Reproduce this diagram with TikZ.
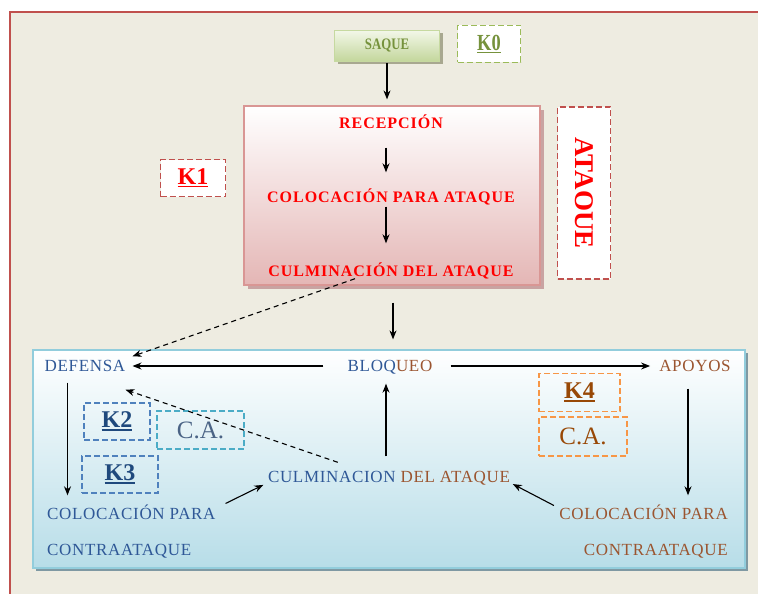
\documentclass[tikz,border=0pt]{standalone}
\usepackage{fontspec}
\setmainfont{Liberation Serif}
\newfontfamily\fA[LetterSpace=6]{Liberation Serif}
\newfontfamily\fB[LetterSpace=4]{Liberation Serif}
\usetikzlibrary{arrows.meta,shadows}
\definecolor{bgc}{HTML}{EEECE1}
\definecolor{framec}{HTML}{C0504D}
\definecolor{redtxt}{HTML}{FF0000}
\definecolor{redbord}{HTML}{D99694}
\definecolor{redbot}{HTML}{E4B6B5}
\definecolor{redsh}{HTML}{C9A3A2}
\definecolor{grtop}{HTML}{F2F7E8}
\definecolor{grbot}{HTML}{C3D69B}
\definecolor{grbord}{HTML}{C6D9A0}
\definecolor{grsh}{HTML}{A8A890}
\definecolor{grtxt}{HTML}{76923C}
\definecolor{grdash}{HTML}{9BBB59}
\definecolor{blbot}{HTML}{B7DDE8}
\definecolor{blbord}{HTML}{92CDDC}
\definecolor{blsh}{HTML}{7F99A3}
\definecolor{bltxt}{HTML}{2F5897}
\definecolor{brtxt}{HTML}{9B5530}
\definecolor{kbl}{HTML}{1F497D}
\definecolor{blue1}{HTML}{4F81BD}
\definecolor{cyan1}{HTML}{4BACC6}
\definecolor{cagray}{HTML}{4A6385}
\definecolor{orng}{HTML}{F79646}
\definecolor{kbr}{HTML}{984806}
\newcommand\kul[1]{\setbox0=\hbox{#1}\leavevmode\rlap{\raisebox{-3pt}{\rule{\wd0}{1.6pt}}}\box0}
\begin{document}
\begin{tikzpicture}[x=1pt,y=-1pt,
  >={Stealth[length=9pt,width=7pt]},
  arr/.style={->,line width=1.1pt,black},
  darr/.style={->,line width=1.1pt,black,dash pattern=on 5pt off 4pt},
  tA/.style={inner sep=0pt,text height=11pt,text depth=0pt,text=redtxt,
    font=\fA\bfseries\fontsize{16}{18}\selectfont},
  tB/.style={inner sep=0pt,text height=11pt,text depth=0pt,
    font=\fB\fontsize{17}{19}\selectfont},
  kbox/.style={draw,line width=1.6pt,dash pattern=on 6pt off 3pt,inner sep=0pt},
  klab/.style={font=\bfseries\fontsize{24}{26}\selectfont},
  calab/.style={font=\fontsize{25}{27}\selectfont}]
\useasboundingbox (0,0) rectangle (758,594);
\fill[white] (0,0) rectangle (758,594);
\fill[bgc] (10,12) rectangle (758,594);
\draw[framec,line width=1.5pt] (10,594) -- (10,12) -- (758,12);

% top part
\node[draw=grbord,line width=1pt,top color=grtop,bottom color=grbot,
  minimum width=105pt,minimum height=31pt,inner sep=0pt,
  general shadow={fill=grsh,shadow xshift=3pt,shadow yshift=-3pt},
  text=grtxt,font=\bfseries\fontsize{16}{18}\selectfont] (saque) at (387,46) {\scalebox{0.8}[1]{SAQUE}};
\node[kbox,draw=grdash,fill=white,minimum width=63pt,minimum height=37pt,
  text=grtxt,font=\bfseries\fontsize{23}{25}\selectfont] (k0) at (489,44) {\scalebox{0.8}[1]{\kul{K0}}};

\node[draw=redbord,line width=1.2pt,top color=white,bottom color=redbot,
  minimum width=296pt,minimum height=179pt,inner sep=0pt,
  general shadow={fill=redsh,shadow xshift=4pt,shadow yshift=-4pt}] (rbox) at (392,195.5) {};
\node[tA] (rec) at (391,123) {RECEPCIÓN};
\node[tA] (col) at (391,197) {COLOCACIÓN PARA ATAQUE};
\node[tA] (cul) at (391,271) {CULMINACIÓN DEL ATAQUE};

\node[kbox,draw=framec,fill=white,minimum width=65pt,minimum height=37pt,
  text=redtxt,klab] (k1) at (193,178) {\kul{K1}};
\node[kbox,draw=framec,fill=white,minimum width=53pt,minimum height=172pt] (atb) at (584,193) {};
\node[rotate=-90,inner sep=0pt,text=redtxt,font=\bfseries\fontsize{27}{29}\selectfont] (atq) at (atb) {ATAOUE};

% bottom part
\node[draw=blbord,line width=1.2pt,top color=white,bottom color=blbot,
  minimum width=712pt,minimum height=218pt,inner sep=0pt,
  general shadow={fill=blsh,shadow xshift=3pt,shadow yshift=-3pt}] (bbox) at (389,459) {};

\node[tB,text=bltxt] (def) at (85,366) {DEFENSA};
\node[tB] (bloq) at (390,366) {\textcolor{bltxt}{BLOQ}\textcolor{brtxt}{UEO}};
\node[tB,text=brtxt] (apo) at (695,366) {APOYOS};
\node[tB] (culm) at (389,477) {\textcolor{bltxt}{CULMINACION }\textcolor{brtxt}{DEL ATAQUE}};
\node[tB,text=bltxt,anchor=west] (colL1) at (47,514) {COLOCACIÓN PARA};
\node[tB,text=bltxt,anchor=west] (colL2) at (47,550) {CONTRAATAQUE};
\node[tB,text=brtxt,anchor=east] (colR1) at (728,514) {COLOCACIÓN PARA};
\node[tB,text=brtxt,anchor=east] (colR2) at (728,550) {CONTRAATAQUE};

\node[kbox,draw=blue1,minimum width=66pt,minimum height=37pt,text=kbl,klab] (k2) at (117,421.5) {\kul{K2}};
\node[kbox,draw=cyan1,minimum width=87pt,minimum height=38pt,text=cagray,calab] (ca1) at (200.5,430) {C.A.};
\node[kbox,draw=blue1,minimum width=76pt,minimum height=37pt,text=kbl,klab] (k3) at (120,474.5) {\kul{K3}};
\node[kbox,draw=orng,minimum width=81pt,minimum height=38pt,text=kbr,klab] (k4) at (579.5,392.5) {\kul{K4}};
\node[kbox,draw=orng,minimum width=88pt,minimum height=39pt,text=kbr,calab] (ca2) at (583,436.5) {C.A.};

% connectors
\draw[arr,shorten <=1pt,shorten >=6pt] (saque.south) -- (saque.south |- rbox.north);
\draw[arr,shorten <=19pt,shorten >=19pt] ([xshift=-5pt]rec.south) -- ([xshift=-5pt]col.north);
\draw[arr,shorten <=4pt,shorten >=22pt] ([xshift=-5pt]col.south) -- ([xshift=-5pt]cul.north);
\draw[arr,shorten <=17pt,shorten >=10pt] ([xshift=1pt]rbox.south) -- ([xshift=1pt]rbox.south |- bbox.north);
\draw[darr,shorten <=0pt] ([shift={(-36pt,-2pt)}]cul.south) -- ([shift={(7pt,4pt)}]def.north east);

\draw[arr,shorten <=24pt,shorten >=7pt] (bloq.west) -- (def.east);
\draw[arr,shorten <=18pt,shorten >=9pt] (bloq.east) -- (apo.west);
\draw[arr,shorten <=11pt,shorten >=13pt] ([xshift=23pt]def.south west) -- ([xshift=23pt]def.south west |- colL1.north);
\draw[arr,shorten <=17pt,shorten >=13pt] ([xshift=-7pt]apo.south) -- ([xshift=-7pt]apo.south |- colR1.north);
\draw[arr,shorten <=15pt,shorten >=12pt] ([xshift=-3pt]culm.north) -- ([xshift=-3pt]culm.north |- bloq.south);
\draw[darr] ([shift={(70pt,9pt)}]culm.north west) -- ([yshift=-18pt]def.south east);
\draw[arr,shorten <=11pt,shorten >=5pt] (colL1.north east) -- (culm.south west);
\draw[arr,shorten <=6pt,shorten >=3pt] (colR1.north west) -- (culm.south east);
\end{tikzpicture}
\end{document}
